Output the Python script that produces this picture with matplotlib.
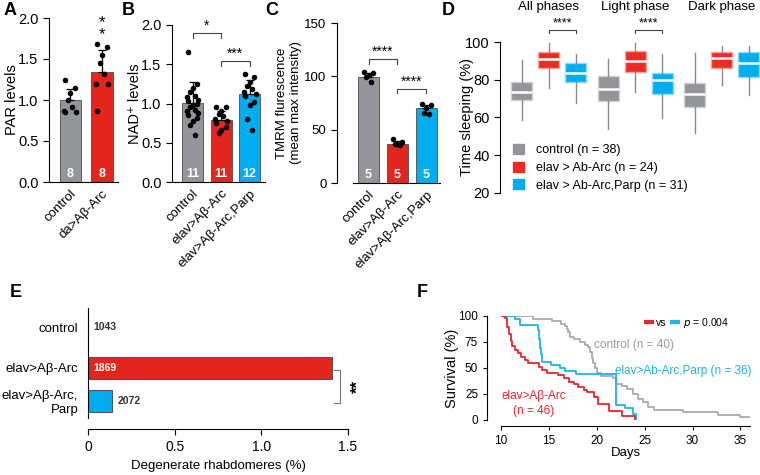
import matplotlib.pyplot as plt
from matplotlib.patches import Patch
from matplotlib.lines import Line2D

plt.rcParams['font.family'] = ['Liberation Sans', 'DejaVu Sans']
plt.rcParams['axes.linewidth'] = 0.8

# ---------------- data ----------------
# A: PAR levels
a_labels = ['control', 'da>Aβ-Arc']
a_means = [1.0, 1.34]
a_err = [0.14, 0.27]
a_points = [[1.25, 1.15, 1.08, 1.0, 0.92, 0.86, 0.85, 0.85],
            [1.68, 1.65, 1.55, 1.45, 1.32, 1.2, 1.2, 0.86]]
a_n = [8, 8]

# B: NAD+ levels
b_labels = ['control', 'elav>Aβ-Arc', 'elav>Aβ-Arc,Parp']
b_means = [1.01, 0.79, 1.12]
b_err = [0.26, 0.11, 0.18]
b_points = [[1.65, 1.25, 1.2, 1.15, 1.1, 1.08, 1.05, 1.03, 1.0, 0.98, 0.95,
             0.92, 0.9, 0.88, 0.85, 0.82, 0.78, 0.72, 0.6],
            [0.96, 0.95, 0.9, 0.86, 0.84, 0.8, 0.78, 0.75, 0.7, 0.66, 0.63],
            [1.38, 1.34, 1.28, 1.22, 1.18, 1.15, 1.12, 1.1, 1.02, 0.98, 0.8, 0.66]]
b_n = [11, 11, 12]

# C: TMRM fluorescence
c_labels = ['control', 'elav>Aβ-Arc', 'elav>Aβ-Arc,Parp']
c_means = [99, 37, 70]
c_err = [4, 2, 3]
c_points = [[104, 103, 101, 99, 95], [41, 38, 37, 37, 36], [74, 73, 70, 66, 65]]
c_n = [5, 5, 5]

# D: sleep, [whislo, q1, median, q3, whishi] for each phase
d_phases = ['All phases', 'Light phase', 'Dark phase']
d_control = [[58.6, 69.2, 73.5, 78.8, 90.5], [53.8, 68.7, 75.0, 82.0, 91.0], [51.7, 65.5, 72.4, 78.3, 94.0]]
d_arc = [[75.6, 86.2, 91.0, 94.7, 99.5], [73.5, 84.0, 90.0, 95.2, 99.5], [77.2, 86.2, 91.5, 94.7, 97.9]]
d_parp = [[67.6, 78.8, 83.6, 88.9, 93.6], [59.7, 72.4, 79.8, 83.5, 93.6], [71.9, 81.4, 88.9, 94.7, 97.9]]
d_legend = ['control (n = 38)', 'elav > Ab-Arc (n = 24)', 'elav > Ab-Arc,Parp (n = 31)']

# E: degenerate rhabdomeres
e_labels = ['control', 'elav>Aβ-Arc', 'elav>Aβ-Arc,\nParp']
e_values = [0.0, 1.41, 0.14]
e_counts = ['1043', '1869', '2072']

# F: survival curves
f_red_days = [10.0, 10.4, 10.6, 10.8, 11.0, 11.2, 11.5, 11.8, 12.1, 12.5, 12.8, 14.0, 14.3,
              14.8, 15.9, 16.6, 17.1, 17.6, 18.0, 18.7, 19.0, 19.7, 20.1, 21.3, 22.6, 24.0]
f_red_surv = [100, 97.8, 89, 83, 76, 71, 67, 64, 61, 58, 55, 51, 48,
              45, 43, 40, 37, 35, 32, 29, 26.5, 22, 15, 8.7, 4.3, 0]
f_blue_days = [10.0, 11.5, 12.0, 13.9, 14.0, 14.1, 14.2, 14.3, 15.2, 16.2, 16.7, 17.8,
               22.0, 22.9, 23.8, 24.1]
f_blue_surv = [100, 97.2, 91.7, 86.1, 77.8, 69.4, 63.9, 55.6, 52.8, 50.0, 47.2, 44.4,
               14.4, 11.1, 5.6, 0]
f_gray_days = [10.0, 13.3, 15.3, 16.3, 16.7, 16.9, 17.0, 17.2, 17.6, 18.3, 18.8, 19.1, 19.3,
               19.5, 19.6, 19.8, 20.0, 20.4, 21.7, 22.0, 22.6, 23.2, 23.8, 24.3, 24.8, 25.3,
               26.0, 29.0, 32.7, 35.0, 36.0]
f_gray_surv = [100, 97.5, 95, 92.5, 90, 87.5, 85, 80, 77.5, 75, 72.5, 70, 65,
               60, 55, 50, 45, 42.5, 40, 35, 32.5, 30, 25, 20, 17.5, 12.5,
               10, 7.5, 5, 2.5, 2.5]

GRAY = '#939598'
RED = '#e3261d'
BLUE = '#00adee'
W, H = 760, 475

fig = plt.figure(figsize=(7.6, 4.75), dpi=100)


def px_axes(left, top, right, bottom):
    return fig.add_axes([left / W, 1 - bottom / H, (right - left) / W, (bottom - top) / H])


def bracket(ax, x0, x1, y, drop, text, fs=10):
    ax.plot([x0, x0, x1, x1], [y - drop, y, y, y - drop], color='#444444', lw=0.8, clip_on=False)
    ax.text((x0 + x1) / 2, y, text, ha='center', va='bottom', fontsize=fs)


def bar_panel(ax, labels, means, err, points, ns, colors, width, ymax, yticks, fmt, tfs=10.5):
    x = list(range(len(means)))
    ax.bar(x, means, width=width, color=colors, edgecolor='#4d4d4d', lw=0.6, zorder=1)
    ax.errorbar(x, means, yerr=[[0] * len(err), err], fmt='none', ecolor='black',
                elinewidth=0.9, capsize=3, capthick=0.9, zorder=2)
    jit = [-0.22, 0.22, 0.0, -0.11, 0.11, -0.28, 0.28]
    for i, pts in enumerate(points):
        xs = [i + jit[k % len(jit)] * width for k in range(len(pts))]
        ax.scatter(xs, pts, s=16, color='black', zorder=3, lw=0)
        ax.text(i, ymax * 0.015, str(ns[i]), color='white', fontweight='bold',
                ha='center', va='bottom', fontsize=9, zorder=4)
    ax.set_ylim(0, ymax)
    ax.set_yticks(yticks)
    ax.set_yticklabels([fmt.format(t) for t in yticks], fontsize=tfs)
    ax.set_xticks(x)
    ax.set_xticklabels(labels, rotation=45, ha='right', rotation_mode='anchor', fontsize=9.5)
    ax.tick_params(axis='x', length=0, pad=4)
    ax.tick_params(axis='y', length=4, width=0.8)
    ax.spines[['top', 'right']].set_visible(False)


# ---------------- A ----------------
axA = px_axes(49, 18, 118, 182)
bar_panel(axA, a_labels, a_means, a_err, a_points, a_n, [GRAY, RED], 0.66, 2.0,
          [0, 0.5, 1.0, 1.5, 2.0], '{:.1f}')
axA.set_xlim(-0.66, 1.5)
axA.set_ylabel('PAR levels', fontsize=10.5)
axA.yaxis.set_label_coords(-0.43, 0.5)
axA.text(1, 1.87, '*\n*', ha='center', va='center', fontsize=12, linespacing=0.75)

# ---------------- B ----------------
axB = px_axes(172, 25, 265, 182)
bar_panel(axB, b_labels, b_means, b_err, b_points, b_n, [GRAY, RED, BLUE], 0.74, 2.0,
          [0, 0.5, 1.0, 1.5, 2.0], '{:.1f}')
axB.set_xlim(-0.72, 2.54)
axB.set_ylabel('NAD⁺ levels', fontsize=10.5)
axB.yaxis.set_label_coords(-0.32, 0.5)
bracket(axB, 0, 1, 1.90, 0.06, '*')
bracket(axB, 1, 2, 1.54, 0.06, '***')

# ---------------- C ----------------
axC = px_axes(337, 23, 440, 183)
bar_panel(axC, c_labels, c_means, c_err, c_points, c_n, [GRAY, RED, BLUE], 0.72, 150,
          [0, 50, 100, 150], '{:.0f}', tfs=9.5)
axC.set_xlim(-1.09, 2.47)
axC.spines['bottom'].set_bounds(-0.55, 2.47)
axC.set_ylabel('TMRM flurescence\n(mean max intensity)', fontsize=9.5)
axC.yaxis.set_label_coords(-0.34, 0.5)
bracket(axC, 0, 1, 116, 4, '****')
bracket(axC, 1, 2, 88, 4, '****')

# ---------------- D ----------------
axD = px_axes(500, 42, 760, 193)
geno = [(d_control, GRAY, '#cfd0d2'), (d_arc, '#ee2a24', '#f7a29d'), (d_parp, BLUE, '#8fd8f6')]
for k, (rows, col, edge) in enumerate(geno):
    stats = [dict(whislo=r[0], q1=r[1], med=r[2], q3=r[3], whishi=r[4]) for r in rows]
    pos = [g * 3.2 + k for g in range(len(rows))]
    axD.bxp(stats, positions=pos, widths=0.78, patch_artist=True, showfliers=False, showcaps=False,
            boxprops=dict(facecolor=col, edgecolor=edge, lw=1.0),
            medianprops=dict(color='white', lw=1.8),
            whiskerprops=dict(color='#8a8a8a', lw=1.0))
for g, name in enumerate(d_phases):
    axD.text(g * 3.2 + 1, 1.19, name, transform=axD.get_xaxis_transform(),
             ha='center', va='bottom', fontsize=9.5)
bracket(axD, 1, 2, 106.5, 1.5, '****', fs=9)
bracket(axD, 3.2 + 1, 3.2 + 2, 106.5, 1.5, '****', fs=9)
axD.set_xlim(-0.81, 8.81)
axD.set_ylim(20, 100)
axD.set_yticks([20, 40, 60, 80, 100])
axD.tick_params(axis='y', labelsize=10.5, length=4, width=0.8)
axD.set_xticks([])
axD.spines[['top', 'right', 'bottom']].set_visible(False)
axD.set_ylabel('Time sleeping (%)', fontsize=10.5)
axD.yaxis.set_label_coords(-0.10, 0.5)
handles = [Patch(facecolor=c, edgecolor=c) for _, c, _ in geno]
axD.legend(handles, d_legend, loc='upper left', bbox_to_anchor=(513 / W, 1 - 144 / H),
           bbox_transform=fig.transFigure, frameon=False, fontsize=9,
           handlelength=0.9, handleheight=0.9, handletextpad=0.9, labelspacing=0.4,
           borderpad=0, borderaxespad=0)

# ---------------- E ----------------
axE = px_axes(88, 308, 348, 418)
e_pos = [2.24, 1, 0]
axE.barh(e_pos, e_values, height=0.67, color=['white', RED, BLUE], edgecolor='#555555', lw=0.8)
axE.text(0.03, e_pos[0], e_counts[0], va='center', ha='left', fontsize=7.5,
         fontweight='bold', color='#333333')
axE.text(0.03, e_pos[1], e_counts[1], va='center', ha='left', fontsize=7.5,
         fontweight='bold', color='white')
axE.text(e_values[2] + 0.03, e_pos[2], e_counts[2], va='center', ha='left', fontsize=7.5,
         fontweight='bold', color='#333333')
axE.set_xlim(0, 1.5)
axE.set_ylim(-0.52, 2.82)
axE.set_yticks(e_pos)
axE.set_yticklabels(e_labels, fontsize=9.5)
axE.tick_params(axis='y', length=0, pad=7)
axE.set_xticks([0, 0.5, 1.0, 1.5])
axE.set_xticklabels(['0', '0.5', '1.0', '1.5'], fontsize=10.5)
axE.tick_params(axis='x', length=4, width=0.8)
axE.spines[['top', 'right']].set_visible(False)
axE.spines['bottom'].set_position(('outward', 8))
axE.set_xlabel('Degenerate rhabdomeres (%)', fontsize=9.5, labelpad=5)
axE.plot([1.42, 1.455, 1.455, 1.42], [0.94, 0.94, -0.06, -0.06], color='#777777', lw=0.8,
         clip_on=False)
axE.text(1.56, 0.44, '**', rotation=90, ha='center', va='center', fontsize=12, fontweight='bold')

# ---------------- F ----------------
axF = px_axes(501, 316, 750, 420)
axF.step(f_gray_days, f_gray_surv, where='post', color='#aaaaaa', lw=1.3)
axF.step(f_blue_days, f_blue_surv, where='post', color='#20b2ea', lw=1.3)
axF.step(f_red_days, f_red_surv, where='post', color='#e8262d', lw=1.3)
axF.set_xlim(10, 36)
axF.set_ylim(0, 100)
axF.set_xticks([10, 15, 20, 25, 30, 35])
axF.set_yticks([0, 25, 50, 75, 100])
axF.tick_params(labelsize=8.5, length=3, width=0.8)
axF.spines[['top', 'right']].set_visible(False)
axF.spines['left'].set_position(('outward', 10))
axF.spines['bottom'].set_position(('outward', 4))
axF.set_ylabel('Survival (%)', fontsize=10.5)
axF.yaxis.set_label_coords(-0.17, 0.5)
axF.set_xlabel('Days', fontsize=9.5, labelpad=0)
axF.text(19.7, 72, 'control (n = 40)', color='#9a9a9a', fontsize=8.5, va='center')
axF.text(21.9, 47, 'elav>Ab-Arc,Parp (n = 36)', color='#20b2ea', fontsize=8.5, va='center')
axF.text(13.4, 16, 'elav>Aβ-Arc\n(n = 46)', color='#e8262d', fontsize=8.5, va='center',
         ha='center', linespacing=1.3)
fh = [Line2D([], [], color='#e8262d', lw=3), Line2D([], [], color='#20b2ea', lw=3)]
axF.legend(fh, ['vs', '$p$ = 0.004'], ncol=2, loc='upper left',
           bbox_to_anchor=(646 / W, 1 - 316 / H), bbox_transform=fig.transFigure,
           frameon=False, fontsize=7.5, handlelength=0.6, handletextpad=0.4,
           columnspacing=0.5, borderpad=0, borderaxespad=0)

# panel letters
for letter, (lx, ly) in {'A': (4, 2), 'B': (122, 2), 'C': (265, 2), 'D': (442, 2),
                         'E': (10, 284), 'F': (417, 284)}.items():
    fig.text(lx / W, 1 - ly / H, letter, fontsize=13, fontweight='bold', va='top', ha='left')

fig.savefig('out.png', dpi=100)
